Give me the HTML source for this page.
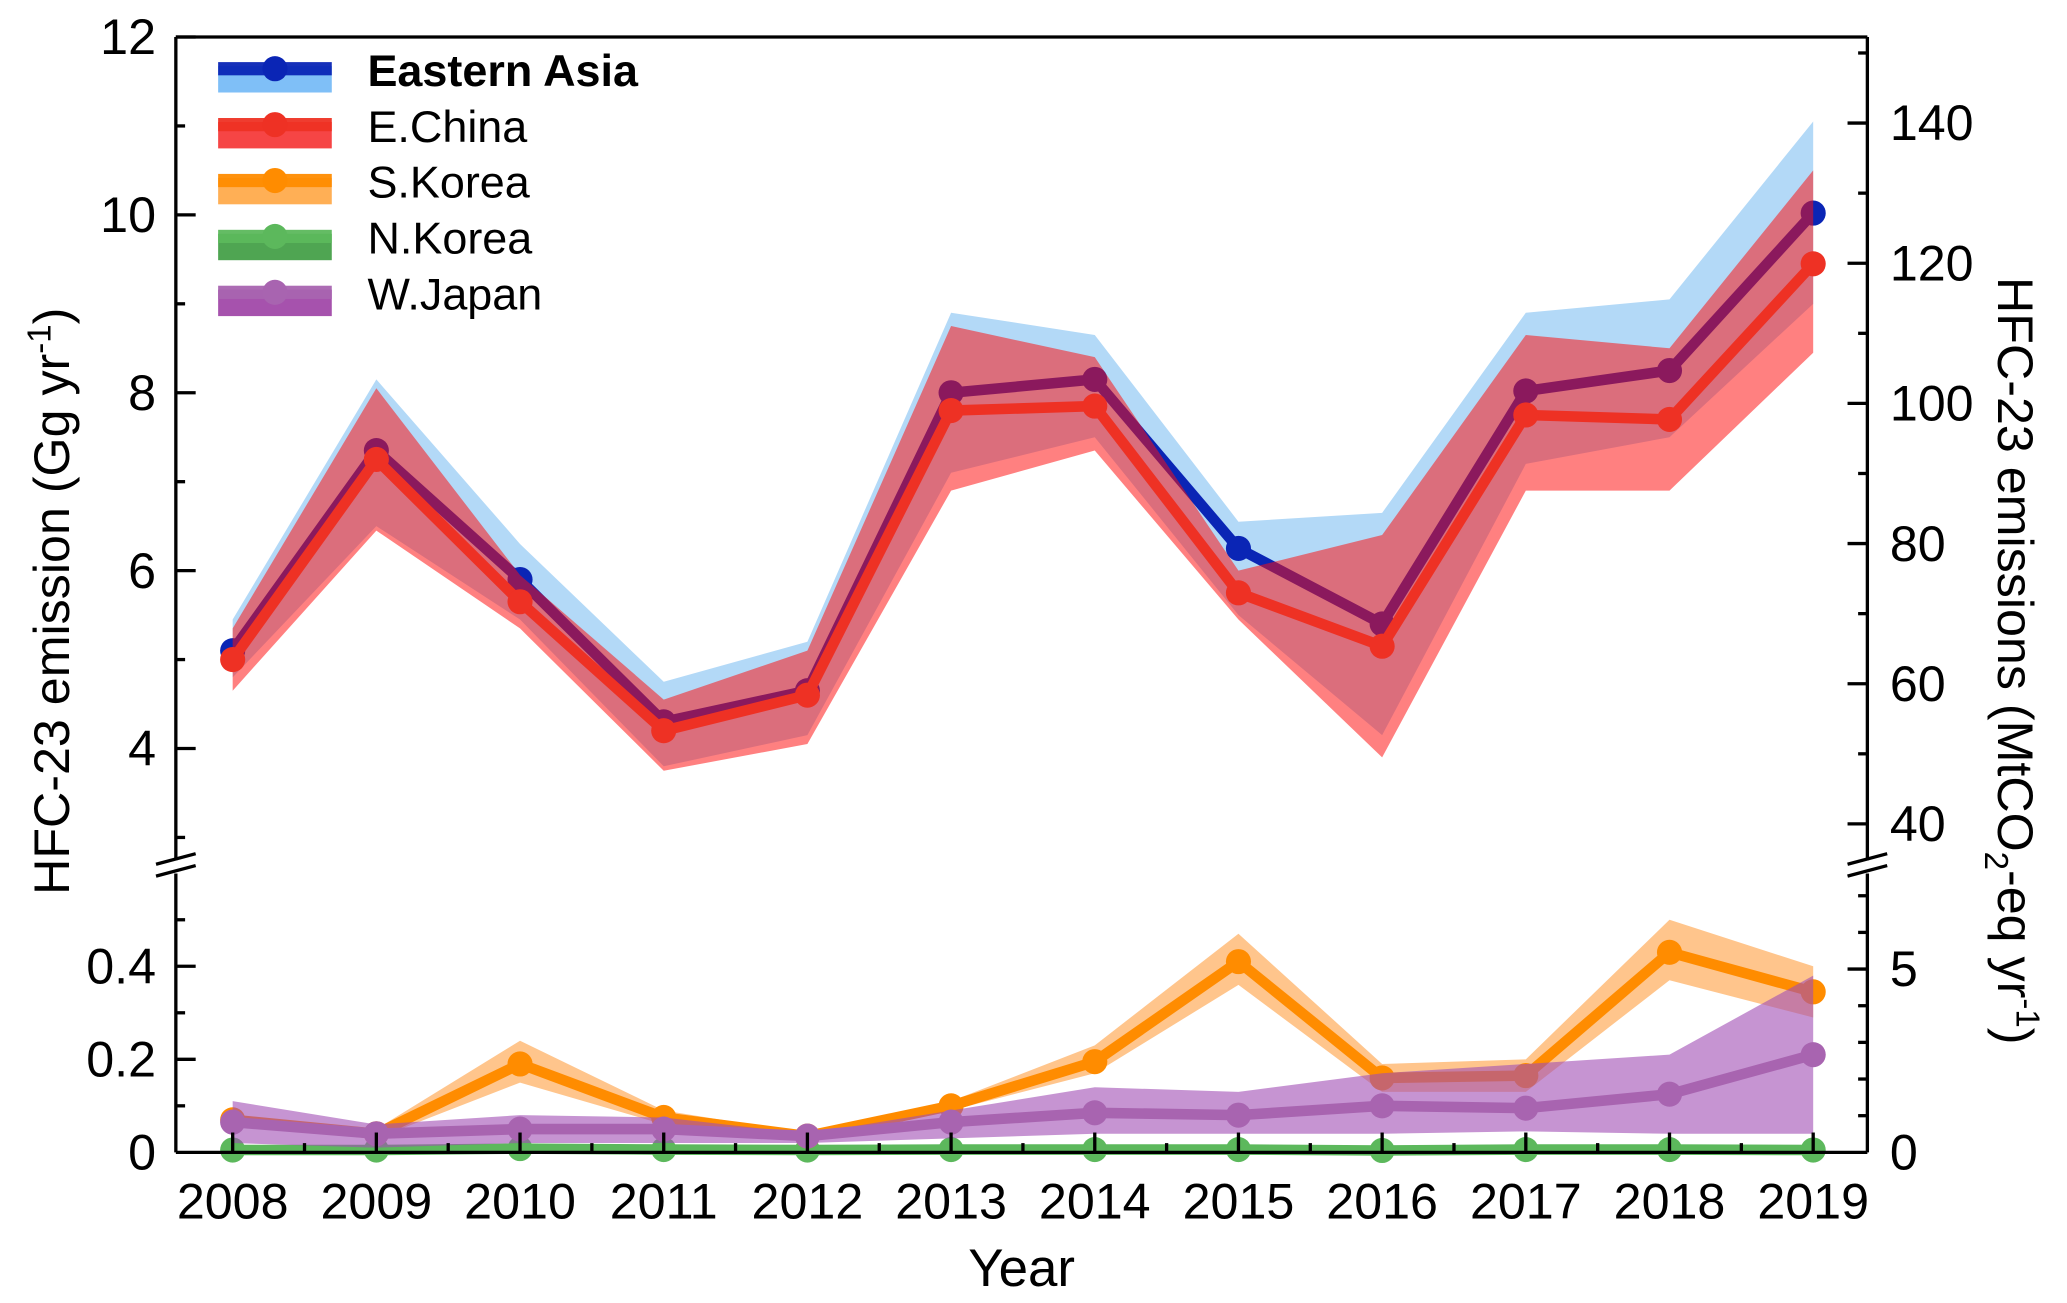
<!DOCTYPE html>
<html><head><meta charset="utf-8"><style>
html,body{margin:0;padding:0;background:#fff;}
svg{display:block;font-family:"Liberation Sans",Arial,sans-serif;}
</style></head><body>
<svg id="chart" width="2067" height="1303" viewBox="0 0 1564 986" xmlns="http://www.w3.org/2000/svg">
<g id="bands"></g><g id="axes"></g><g id="legend"></g>
</svg>
<script>
const years=[2008,2009,2010,2011,2012,2013,2014,2015,2016,2017,2018,2019];
const eaMean=[5.1,7.35,5.9,4.3,4.65,8.0,8.15,6.25,5.4,8.02,8.25,10.02];
const eaHi=[5.45,8.15,6.3,4.75,5.2,8.9,8.65,6.55,6.65,8.9,9.05,11.05];
const eaLo=[4.8,6.5,5.45,3.8,4.15,7.1,7.5,5.5,4.15,7.2,7.5,9.0];
const ecMean=[5.0,7.25,5.65,4.2,4.6,7.8,7.85,5.75,5.15,7.75,7.7,9.45];
const ecHi=[5.35,8.05,5.95,4.55,5.1,8.75,8.4,6.0,6.4,8.65,8.5,10.5];
const ecLo=[4.65,6.45,5.35,3.75,4.05,6.9,7.35,5.45,3.9,6.9,6.9,8.45];
const skMean=[0.07,0.04,0.19,0.075,0.035,0.1,0.195,0.41,0.16,0.165,0.43,0.345];
const skHi=[0.08,0.05,0.24,0.09,0.04,0.11,0.23,0.47,0.19,0.2,0.5,0.4];
const skLo=[0.06,0.03,0.15,0.06,0.03,0.09,0.17,0.36,0.13,0.13,0.37,0.29];
const nkMean=[0.005,0.005,0.008,0.006,0.005,0.006,0.006,0.006,0.004,0.006,0.006,0.005];
const nkHi=[0.014,0.014,0.018,0.015,0.014,0.015,0.015,0.015,0.012,0.015,0.015,0.014];
const nkLo=[0,0,0,0,0,0,0,0,0,0,0,0];
const wjMean=[0.065,0.04,0.05,0.05,0.035,0.065,0.085,0.08,0.1,0.095,0.125,0.21];
const wjHi=[0.11,0.06,0.08,0.075,0.04,0.09,0.14,0.13,0.17,0.19,0.21,0.38];
const wjLo=[0.02,0.01,0.02,0.02,0.02,0.03,0.04,0.04,0.04,0.045,0.04,0.04];
const upperTicks=[4,6,8,10,12];
const lowerTicks=[0,0.2,0.4];
const rightUpperTicks=[40,60,80,100,120,140];
const rightLowerTicks=[0,5];
const gwp=12.69;

const NS="http://www.w3.org/2000/svg";
const L=133,R=1413,TOP=28,BOT=872,BRK=655;
const x=y=>176+(y-2008)*(1372-176)/11;
const yU=v=>28+(12-v)*67.3;
const yL=v=>872-v*352;
function mk(tag,attrs,parent){const e=document.createElementNS(NS,tag);for(const k in attrs)e.setAttribute(k,attrs[k]);parent.appendChild(e);return e;}
const bands=document.getElementById('bands'),axes=document.getElementById('axes'),leg=document.getElementById('legend');

function band(hi,lo,fy,fill,op,name){
  let d='M'+years.map((yr,i)=>x(yr)+','+fy(hi[i])).join('L');
  d+='L'+years.slice().reverse().map((yr,j)=>{const i=years.length-1-j;return x(yr)+','+fy(lo[i]);}).join('L')+'Z';
  const p=mk('path',{d:d,fill:fill,'fill-opacity':op},bands);
  
  
}
function line(vals,fy,col,name,r){
  const p=mk('polyline',{points:years.map((yr,i)=>x(yr)+','+fy(vals[i])).join(' '),fill:'none',stroke:col,'stroke-width':8,'stroke-linejoin':'round'},bands);
  
  
  years.forEach((yr,i)=>{const c=mk('circle',{cx:x(yr),cy:fy(vals[i]),r:r||9.5,fill:col},bands);
    
    });
}
band(eaHi,eaLo,yU,'#b3d9f7',1,'eastern-asia-band');
line(eaMean,yU,'#0a25b5','eastern-asia');
band(ecHi,ecLo,yU,'#ff1010',0.53,'e-china-band');
line(ecMean,yU,'#ee3124','e-china');
band(nkHi,nkLo,yL,'#4caf50',0.9,'n-korea-band');
line(nkMean,yL,'#5cb85c','n-korea');
band(skHi,skLo,yL,'#ff8c1a',0.5,'s-korea-band');
line(skMean,yL,'#ff8c00','s-korea');
band(wjHi,wjLo,yL,'#a04cb4',0.6,'w-japan-band');
line(wjMean,yL,'#a864b0','w-japan');

function ln(x1,y1,x2,y2,name,w){const l=mk('line',{x1:x1,y1:y1,x2:x2,y2:y2,stroke:'#000','stroke-width':w||2.5},axes);return l;}
ln(L,TOP,R,TOP,'top-border');ln(L,BOT,R,BOT,'x-axis-line');
ln(L,TOP,L,BRK-4,'left-axis-upper');ln(L,BRK+6,L,BOT,'left-axis-lower');
ln(R,TOP,R,BRK-4,'right-axis-upper');ln(R,BRK+6,R,BOT,'right-axis-lower');
[L,R].forEach(ax0=>{ln(ax0-15,BRK-1,ax0+15,BRK-9,'axis-break-mark');ln(ax0-15,BRK+8,ax0+15,BRK,'axis-break-mark');});
function txt(s,xx,yy,size,anchor,name,extra){const t=mk('text',Object.assign({x:xx,y:yy,'font-size':size,'text-anchor':anchor||'middle',fill:'#000'},extra||{}),axes);t.textContent=s;return t;}
for(let v=3;v<=12;v++){const yy=yU(v);const major=upperTicks.includes(v);ln(L,yy,L+(major?15:7),yy,'left-tick');}
upperTicks.forEach(v=>txt(String(v),118,yU(v)+13,38,'end','left-tick-label'));
for(let k=1;k<=5;k++){const v=k/10;const major=[2,4].includes(k);ln(L,yL(v),L+(major?15:7),yL(v),'left-tick');}
lowerTicks.forEach(v=>txt(v===0?'0':v.toFixed(1),118,yL(v)+13,38,'end','left-tick-label'));
for(let m=30;m<=150;m+=10){const yy=yU(m/gwp);if(yy<TOP||yy>BRK-6)continue;const major=rightUpperTicks.includes(m);ln(R,yy,R-(major?15:7),yy,'right-tick');}
rightUpperTicks.forEach(m=>txt(String(m),1430,yU(m/gwp)+13,38,'start','right-tick-label'));
for(let m=1;m<=7;m++){const yy=yL(m/gwp);if(yy<BRK+8)continue;const major=m===5;ln(R,yy,R-(major?15:7),yy,'right-tick');}
rightLowerTicks.forEach(m=>txt(String(m),1430,yL(m/gwp)+13,38,'start','right-tick-label'));
years.forEach(yr=>{ln(x(yr),BOT,x(yr),BOT-15,'x-tick');txt(String(yr),x(yr),922,38,'middle','x-tick-label');});
years.slice(0,-1).forEach(yr=>ln(x(yr+0.5),BOT,x(yr+0.5),BOT-7,'x-minor-tick'));
txt('Year',773,973,40,'middle','x-axis-title');
const lt=txt('',0,0,38,'middle','left-axis-title',{transform:'translate(52,455) rotate(-90)'});
lt.innerHTML='HFC-23 emission (Gg yr<tspan dy="-14" font-size="25">-1</tspan><tspan dy="14">)</tspan>';
const rt=txt('',0,0,38,'middle','right-axis-title',{transform:'translate(1512,500) rotate(90)'});
rt.innerHTML='HFC-23 emissions (MtCO<tspan dy="10" font-size="25">2</tspan><tspan dy="-10">-eq yr</tspan><tspan dy="-14" font-size="25">-1</tspan><tspan dy="14">)</tspan>';
const legItems=[['Eastern Asia','#0a25b5','#7fbff7',true],['E.China','#ee3124','#f64545',false],['S.Korea','#ff8c00','#ffaf55',false],['N.Korea','#5cb85c','#4fa552',false],['W.Japan','#a864b0','#a652ad',false]];
legItems.forEach((it,i)=>{
  const cy=55+i*42.3;
  const g=mk('g',{},leg);
  
  
  mk('rect',{x:165,y:cy-5,width:86,height:20,fill:it[2]},g);
  mk('rect',{x:165,y:cy-8,width:86,height:10,fill:it[1],'fill-opacity':0.95},g);
  mk('circle',{cx:208,cy:cy-3,r:9.5,fill:it[1]},g);
  const t=mk('text',{x:278,y:cy+10,'font-size':34,'font-weight':it[3]?'bold':'normal',fill:'#000'},g);
  t.textContent=it[0];
});
</script>
</body></html>
